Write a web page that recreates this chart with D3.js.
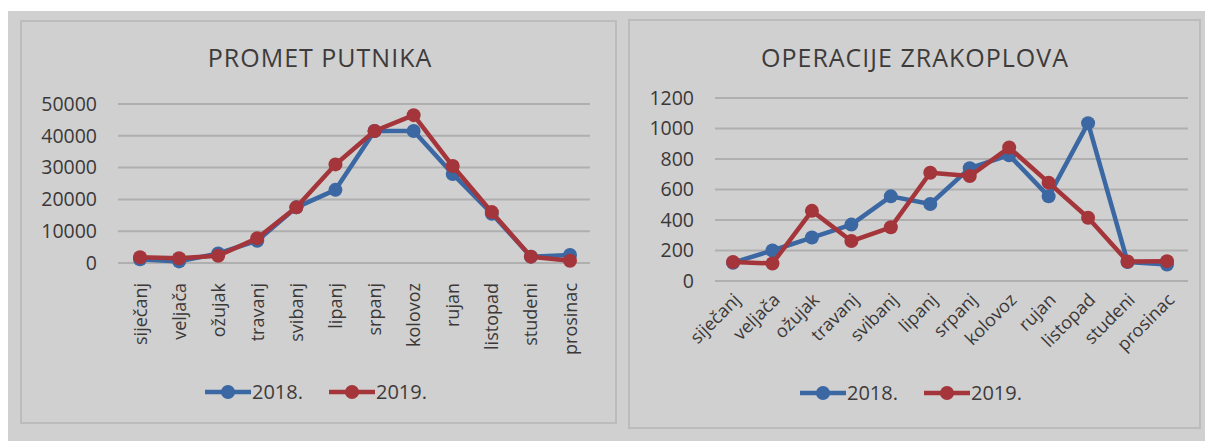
<!DOCTYPE html>
<html>
<head>
<meta charset="utf-8">
<script src="https://cdn.jsdelivr.net/npm/d3@7/dist/d3.min.js"></script>
<style>
  html, body { margin: 0; padding: 0; background: #fff; }
  svg { display: block; }
  text { font-family: "Open Sans", sans-serif; fill: #3e3b3b; }
</style>
</head>
<body>
<svg id="chart" width="1205" height="441"></svg>
<script>
const months = ['siječanj', 'veljača', 'ožujak', 'travanj', 'svibanj', 'lipanj',
  'srpanj', 'kolovoz', 'rujan', 'listopad', 'studeni', 'prosinac'];
const seriesNames = ['2018.', '2019.'];

// promet putnika
const passengers2018 = [1200, 500, 3000, 7000, 17500, 23000, 41500, 41500, 28000, 15500, 2000, 2500];
const passengers2019 = [1800, 1500, 2300, 7800, 17500, 31000, 41500, 46500, 30500, 16000, 2000, 700];
const passengerTicks = [0, 10000, 20000, 30000, 40000, 50000];

// operacije zrakoplova
const flights2018 = [120, 200, 285, 370, 555, 505, 740, 825, 555, 1035, 125, 108];
const flights2019 = [125, 115, 460, 262, 352, 710, 688, 875, 645, 415, 128, 130];
const flightTicks = [0, 200, 400, 600, 800, 1000, 1200];

const colors = ['#3b67a3', '#a4363b'];
const textColor = '#3b3838';

const svg = d3.select('#chart');

// grey page behind both panels
svg.append('rect')
  .attr('x', 8).attr('y', 11)
  .attr('width', 1197).attr('height', 430)
  .style('fill', '#d0d0d0');

function drawChart(opts) {
  const g = svg.append('g');

  // panel frame
  g.append('rect')
    .attr('x', opts.box[0]).attr('y', opts.box[1])
    .attr('width', opts.box[2]).attr('height', opts.box[3])
    .style('fill', 'none')
    .style('stroke', '#bcbcbc')
    .style('stroke-width', 2);

  g.append('text')
    .attr('x', opts.titleX)
    .attr('y', 67)
    .attr('text-anchor', 'middle')
    .style('font-size', '25px')
    .style('font-weight', 500)
    .style('letter-spacing', '1px')
    .text(opts.title);

  const x = d3.scalePoint()
    .domain(months)
    .range(opts.xRange);

  const y = d3.scaleLinear()
    .domain([0, d3.max(opts.ticks)])
    .range(opts.yRange);

  // gridlines
  g.selectAll('.grid')
    .data(opts.ticks)
    .enter()
    .append('line')
    .attr('x1', opts.gridX[0]).attr('x2', opts.gridX[1])
    .attr('y1', d => y(d)).attr('y2', d => y(d))
    .style('stroke', '#afafaf')
    .style('stroke-width', 2);

  const yAxis = g.append('g')
    .attr('transform', `translate(${opts.gridX[0]},0)`)
    .call(d3.axisLeft(y).tickValues(opts.ticks).tickFormat(d3.format('d'))
      .tickSize(0).tickPadding(21));
  yAxis.select('.domain').remove();
  yAxis.selectAll('text')
    .style('font-size', '19.5px')
    .style('font-family', '"Open Sans", sans-serif')
    .style('font-weight', 500)
    .style('fill', textColor);

  const xAxis = g.append('g')
    .attr('transform', `translate(0,${opts.yRange[0]})`)
    .call(d3.axisBottom(x).tickSize(0));
  xAxis.select('.domain').remove();
  xAxis.selectAll('text')
    .style('font-size', '18px')
    .style('font-family', '"Open Sans", sans-serif')
    .style('font-weight', 500)
    .style('fill', textColor)
    .attr('text-anchor', 'end')
    .attr('dy', 0)
    .attr('y', 0)
    .attr('transform', opts.labelTransform);

  const line = d3.line()
    .x((d, i) => x(months[i]))
    .y(d => y(d));

  opts.series.forEach(function(values, k) {
    g.append('path')
      .datum(values)
      .attr('d', line)
      .style('fill', 'none')
      .style('stroke', colors[k])
      .style('stroke-width', 4.5)
      .style('stroke-linejoin', 'round');

    g.selectAll('.dot' + k)
      .data(values)
      .enter()
      .append('circle')
      .attr('cx', (d, i) => x(months[i]))
      .attr('cy', d => y(d))
      .attr('r', 7)
      .style('fill', colors[k]);
  });

  // legend
  const legend = g.selectAll('.legend')
    .data(seriesNames)
    .enter()
    .append('g')
    .attr('transform', (d, i) => `translate(${opts.legendX + i * 124},${opts.legendY})`);

  legend.append('line')
    .attr('x1', 0).attr('x2', 46)
    .attr('y1', 0).attr('y2', 0)
    .style('stroke', (d, i) => colors[i])
    .style('stroke-width', 4.5);

  legend.append('circle')
    .attr('cx', 23).attr('cy', 0).attr('r', 7)
    .style('fill', (d, i) => colors[i]);

  legend.append('text')
    .attr('x', 47)
    .attr('y', 7)
    .style('font-size', '20px')
    .style('font-weight', 500)
    .text(d => d);
}

drawChart({
  title: 'PROMET PUTNIKA',
  titleX: 320,
  box: [21, 21, 595, 402],
  xRange: [140, 570],
  yRange: [263, 104],
  gridX: [118, 590],
  ticks: passengerTicks,
  series: [passengers2018, passengers2019],
  labelTransform: 'translate(6,20) rotate(-90)',
  legendX: 205,
  legendY: 392
});

drawChart({
  title: 'OPERACIJE ZRAKOPLOVA',
  titleX: 915,
  box: [629, 20, 571, 408],
  xRange: [733, 1167],
  yRange: [281, 98],
  gridX: [715, 1188],
  ticks: flightTicks,
  series: [flights2018, flights2019],
  labelTransform: 'translate(8,20) rotate(-45)',
  legendX: 800,
  legendY: 393
});
</script>
</body>
</html>
